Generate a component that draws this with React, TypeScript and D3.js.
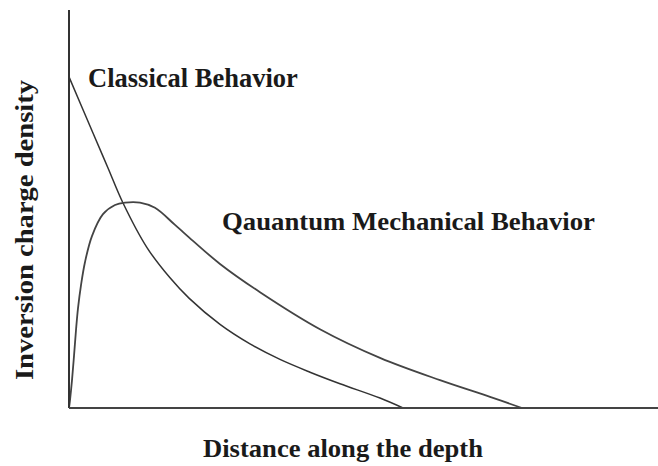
import React from "react";
import * as d3 from "d3";

// Depth (0-100 of axis length) and density (0-100 of axis height)
const classicalDepth = [0, 4.07, 6.62, 9.17, 13.24, 17.15, 20.37, 25.64, 30.73, 35.82, 40.92, 46.01, 52.8, 56.71];
const classicalDensity = [83.2, 69.1, 60.3, 51.5, 40.3, 32.7, 27.6, 21.0, 16.1, 12.2, 9.0, 6.1, 2.5, 0];

const quantumDepth = [0, 0.17, 0.51, 0.85, 1.19, 1.53, 2.04, 2.72, 3.9, 5.77, 7.81, 9.51, 12.05, 14.6, 18.0, 21.05, 25.64, 32.43, 42.61, 52.8, 62.99, 71.48, 76.91];
const quantumDensity = [0, 2.0, 7.0, 13.1, 19.6, 25.1, 30.9, 36.7, 43.2, 48.7, 51.0, 51.6, 51.6, 50.3, 46.0, 42.0, 36.2, 29.1, 19.8, 12.6, 7.0, 2.8, 0];

const curveLabels = ["Classical Behavior", "Qauantum Mechanical Behavior"];
const xTitle = "Distance along the depth";
const yTitle = "Inversion charge density";

const W = 658;
const H = 466;

export default function App() {
  const x = d3.scaleLinear().domain([0, 100]).range([69, 658]);
  const y = d3.scaleLinear().domain([0, 100]).range([408, 10]);
  const line = d3
    .line<[number, number]>()
    .x((d) => x(d[0]))
    .y((d) => y(d[1]))
    .curve(d3.curveCatmullRom.alpha(0.5));
  const classical: [number, number][] = classicalDepth.map((d, i) => [d, classicalDensity[i]]);
  const quantum: [number, number][] = quantumDepth.map((d, i) => [d, quantumDensity[i]]);
  const font = "'Liberation Serif', 'Times New Roman', serif";
  return (
    <svg
      width={W}
      height={H}
      style={{ position: "absolute", left: 0, top: 0, background: "#fff" }}
    >
      <path d={line(classical) || ""} fill="none" stroke="#333" strokeWidth={1.5} />
      <path d={line(quantum) || ""} fill="none" stroke="#444" strokeWidth={1.8} />
      <line x1={x(0)} x2={x(0)} y1={y(100)} y2={y(0)} stroke="#333" strokeWidth={2} />
      <line x1={x(0)} x2={x(100)} y1={y(0)} y2={y(0)} stroke="#444" strokeWidth={2} />
      <text x={88} y={87} fontFamily={font} fontWeight="bold" fontSize={26.5} fill="#1a1a1a">
        {curveLabels[0]}
      </text>
      <text x={222} y={230} fontFamily={font} fontWeight="bold" fontSize={26} fill="#1a1a1a" textLength={373} lengthAdjust="spacingAndGlyphs">
        {curveLabels[1]}
      </text>
      <text x={343} y={457} textAnchor="middle" fontFamily={font} fontWeight="bold" fontSize={26} fill="#1a1a1a" textLength={280} lengthAdjust="spacingAndGlyphs">
        {xTitle}
      </text>
      <text
        transform="translate(33,230) rotate(-90)"
        textAnchor="middle"
        fontFamily={font}
        fontWeight="bold"
        fontSize={26}
        fill="#1a1a1a"
        textLength={300}
        lengthAdjust="spacingAndGlyphs"
      >
        {yTitle}
      </text>
    </svg>
  );
}
